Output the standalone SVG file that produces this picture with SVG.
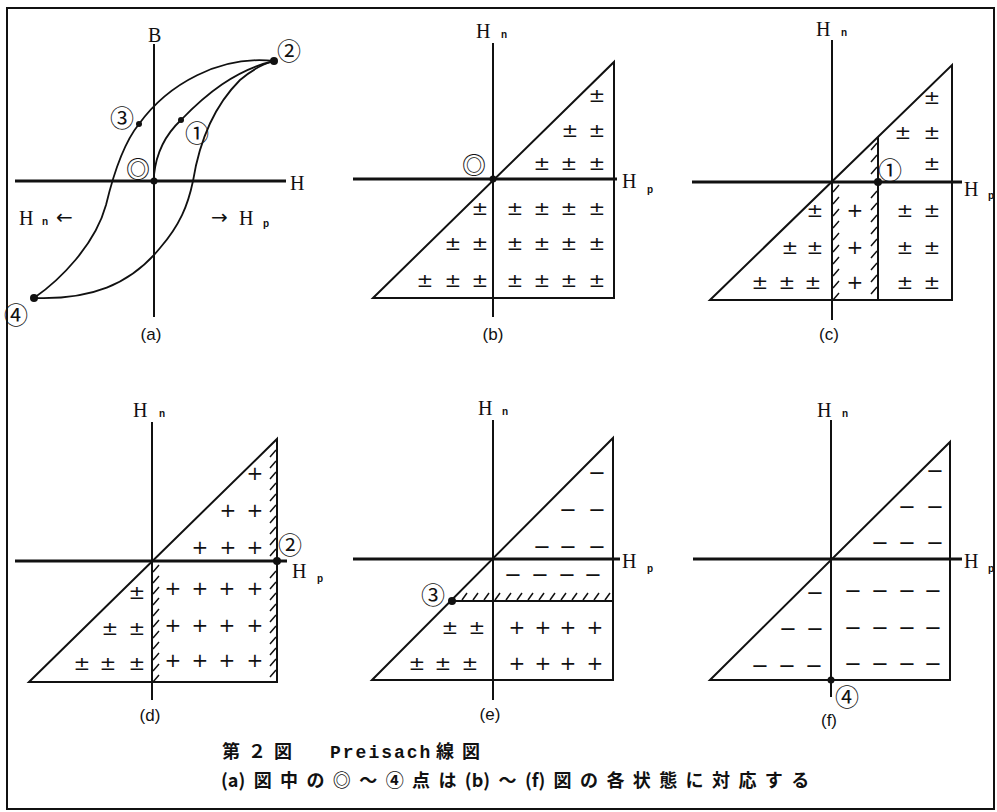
<svg xmlns="http://www.w3.org/2000/svg" width="997" height="812" viewBox="0 0 997 812">
<style>
.ax{stroke:#111;stroke-width:3;fill:none}
.vx{stroke:#111;stroke-width:2;fill:none}
.tri{stroke:#111;stroke-width:2;fill:none;stroke-linejoin:miter}
.cv{stroke:#111;stroke-width:1.8;fill:none}
.ht{stroke:#111;stroke-width:1.5;fill:none}
.s{font-family:"DejaVu Sans",sans-serif;font-size:20px;fill:#111;text-anchor:middle;dominant-baseline:central}
.m{font-family:"DejaVu Sans",sans-serif;font-size:21px;fill:#111;text-anchor:middle;dominant-baseline:central}
.lb{font-family:"Liberation Serif",serif;font-size:20px;fill:#111}
.ar{font-family:"DejaVu Sans",sans-serif;font-size:20px;fill:#111}
.sub{font-family:"Liberation Sans",sans-serif;font-size:10px;font-weight:bold;fill:#111}
.cn{font-family:"Noto Sans CJK JP",sans-serif;font-size:24px;fill:#111;text-anchor:middle;dominant-baseline:central}
.pl{font-family:"Liberation Sans",sans-serif;font-size:17px;fill:#111;text-anchor:middle}
.cap{font-family:"Noto Sans CJK JP",sans-serif;font-size:18px;font-weight:bold;fill:#111}
.mono{font-family:"Liberation Mono",monospace;font-size:18px;font-weight:bold;fill:#111}
.dot{fill:#111}
</style>
<rect x="7" y="8" width="987" height="801" fill="none" stroke="#111" stroke-width="2"/>

<g id="panel-a">
  <line class="vx" x1="154" y1="44" x2="154" y2="317"/>
  <line class="ax" x1="15" y1="181" x2="286" y2="181"/>
  <path class="cv" d="M34,298 C60,280 95,245 106,205 C112,180 122,145 139,124 C168,84 220,55 274,61"/>
  <path class="cv" d="M34,298 C90,300 130,285 160,248 C180,225 188,205 193,181 C198,150 210,110 240,80 C252,70 262,64 274,61"/>
  <path class="cv" d="M154,181 L154,175 C156,155 165,135 181,120 C205,95 235,70 274,61"/>
  <circle class="dot" cx="154" cy="181" r="3.5"/>
  <circle class="dot" cx="274" cy="61" r="4"/>
  <circle class="dot" cx="34" cy="298" r="4"/>
  <circle class="dot" cx="139" cy="124" r="3"/>
  <circle class="dot" cx="181" cy="120" r="3"/>
  <text class="lb" x="148" y="42">B</text>
  <text class="lb" x="290" y="190">H</text>
  <text class="lb" x="19" y="225">H<tspan class="sub" x="42" y="225">n</tspan></text>
  <text class="ar" x="56" y="224">←</text>
  <text class="ar" x="211" y="224">→</text>
  <text class="lb" x="239" y="225">H<tspan class="sub" x="263" y="227">p</tspan></text>
  <text class="cn" x="289" y="49">②</text>
  <text class="cn" x="122" y="116">③</text>
  <text class="cn" x="197" y="131">①</text>
  <text class="cn" x="138" y="167">◎</text>
  <text class="cn" x="16" y="313">④</text>
  <text class="pl" x="151" y="340">(a)</text>
</g>

<g id="panel-b">
  <line class="vx" x1="493" y1="43" x2="493" y2="317"/>
  <line class="ax" x1="353" y1="179" x2="617" y2="179"/>
  <path class="tri" d="M373,298 L614,62 L614,298 Z"/>
  <circle class="dot" cx="493" cy="179" r="3.5"/>
  <text class="lb" x="476" y="38">H<tspan class="sub" x="501" y="38">n</tspan></text>
  <text class="lb" x="622" y="188">H<tspan class="sub" x="647" y="193">p</tspan></text>
  <text class="cn" x="474" y="163">◎</text>
  <g>
    <text class="s" x="597" y="95">±</text>
    <text class="s" x="570" y="130">±</text><text class="s" x="597" y="130">±</text>
    <text class="s" x="542" y="163">±</text><text class="s" x="569" y="163">±</text><text class="s" x="597" y="163">±</text>
    <text class="s" x="480" y="208">±</text>
    <text class="s" x="453" y="243">±</text><text class="s" x="480" y="243">±</text>
    <text class="s" x="425" y="280">±</text><text class="s" x="453" y="280">±</text><text class="s" x="480" y="280">±</text>
    <text class="s" x="515" y="208">±</text><text class="s" x="542" y="208">±</text><text class="s" x="569" y="208">±</text><text class="s" x="597" y="208">±</text>
    <text class="s" x="515" y="243">±</text><text class="s" x="542" y="243">±</text><text class="s" x="569" y="243">±</text><text class="s" x="597" y="243">±</text>
    <text class="s" x="515" y="280">±</text><text class="s" x="542" y="280">±</text><text class="s" x="569" y="280">±</text><text class="s" x="597" y="280">±</text>
  </g>
  <text class="pl" x="493" y="340">(b)</text>
</g>

<g id="panel-c">
  <line class="vx" x1="832" y1="40" x2="832" y2="320"/>
  <line class="ax" x1="692" y1="182" x2="962" y2="182"/>
  <path class="tri" d="M710,300 L952,65 L952,300 Z"/>
  <line class="vx" x1="878" y1="137" x2="878" y2="300"/>
  <path class="ht" d="M833,192 l6,-7 M833,204 l6,-7 M833,216 l6,-7 M833,228 l6,-7 M833,240 l6,-7 M833,252 l6,-7 M833,264 l6,-7 M833,276 l6,-7 M833,288 l6,-7 M833,300 l6,-7"/>
  <path class="ht" d="M871,150 l6,-7 M871,162 l6,-7 M871,174 l6,-7 M871,198 l6,-7 M871,210 l6,-7 M871,222 l6,-7 M871,234 l6,-7 M871,246 l6,-7 M871,258 l6,-7 M871,270 l6,-7 M871,282 l6,-7 M871,294 l6,-7"/>
  <circle class="dot" cx="878" cy="182" r="4"/>
  <text class="lb" x="816" y="36">H<tspan class="sub" x="841" y="36">n</tspan></text>
  <text class="lb" x="964" y="196">H<tspan class="sub" x="988" y="199">p</tspan></text>
  <text class="cn" x="890" y="168">①</text>
  <g>
    <text class="s" x="932" y="97">±</text>
    <text class="s" x="903" y="132">±</text><text class="s" x="932" y="132">±</text>
    <text class="s" x="932" y="163">±</text>
    <text class="s" x="815" y="210">±</text>
    <text class="s" x="790" y="247">±</text><text class="s" x="815" y="247">±</text>
    <text class="s" x="760" y="282">±</text><text class="s" x="787" y="282">±</text><text class="s" x="813" y="282">±</text>
    <text class="s" x="855" y="210">+</text><text class="s" x="855" y="247">+</text><text class="s" x="855" y="282">+</text>
    <text class="s" x="905" y="210">±</text><text class="s" x="932" y="210">±</text>
    <text class="s" x="905" y="247">±</text><text class="s" x="932" y="247">±</text>
    <text class="s" x="905" y="282">±</text><text class="s" x="932" y="282">±</text>
  </g>
  <text class="pl" x="829" y="340">(c)</text>
</g>

<g id="panel-d">
  <line class="vx" x1="152" y1="422" x2="152" y2="700"/>
  <line class="ax" x1="15" y1="561" x2="287" y2="561"/>
  <path class="tri" d="M29,682 L277,439 L277,682 Z"/>
  <path class="ht" d="M153,572 l6,-7 M153,583 l6,-7 M153,594 l6,-7 M153,605 l6,-7 M153,616 l6,-7 M153,627 l6,-7 M153,638 l6,-7 M153,649 l6,-7 M153,660 l6,-7 M153,671 l6,-7 M153,682 l6,-7"/>
  <path class="ht" d="M270,457 l6,-7 M270,468 l6,-7 M270,479 l6,-7 M270,490 l6,-7 M270,501 l6,-7 M270,512 l6,-7 M270,523 l6,-7 M270,534 l6,-7 M270,545 l6,-7 M270,556 l6,-7 M270,578 l6,-7 M270,589 l6,-7 M270,600 l6,-7 M270,611 l6,-7 M270,622 l6,-7 M270,633 l6,-7 M270,644 l6,-7 M270,655 l6,-7 M270,666 l6,-7 M270,677 l6,-7"/>
  <circle class="dot" cx="277" cy="561" r="4"/>
  <text class="lb" x="133" y="417">H<tspan class="sub" x="159" y="417">n</tspan></text>
  <text class="lb" x="292" y="578">H<tspan class="sub" x="317" y="582">p</tspan></text>
  <text class="cn" x="290" y="543">②</text>
  <g>
    <text class="s" x="255" y="473">+</text>
    <text class="s" x="228" y="510">+</text><text class="s" x="255" y="510">+</text>
    <text class="s" x="200" y="547">+</text><text class="s" x="228" y="547">+</text><text class="s" x="255" y="547">+</text>
    <text class="s" x="137" y="592">±</text>
    <text class="s" x="110" y="628">±</text><text class="s" x="137" y="628">±</text>
    <text class="s" x="82" y="663">±</text><text class="s" x="108" y="663">±</text><text class="s" x="137" y="663">±</text>
    <text class="s" x="173" y="588">+</text><text class="s" x="200" y="588">+</text><text class="s" x="227" y="588">+</text><text class="s" x="255" y="588">+</text>
    <text class="s" x="173" y="625">+</text><text class="s" x="200" y="625">+</text><text class="s" x="227" y="625">+</text><text class="s" x="255" y="625">+</text>
    <text class="s" x="173" y="660">+</text><text class="s" x="200" y="660">+</text><text class="s" x="227" y="660">+</text><text class="s" x="255" y="660">+</text>
  </g>
  <text class="pl" x="150" y="721">(d)</text>
</g>

<g id="panel-e">
  <line class="vx" x1="493" y1="420" x2="493" y2="700"/>
  <line class="ax" x1="353" y1="559" x2="620" y2="559"/>
  <path class="tri" d="M372,680 L613,438 L613,680 Z"/>
  <line class="vx" x1="451" y1="601" x2="613" y2="601"/>
  <path class="ht" d="M462,600 l5,-7 M473,600 l5,-7 M484,600 l5,-7 M495,600 l5,-7 M506,600 l5,-7 M517,600 l5,-7 M528,600 l5,-7 M539,600 l5,-7 M550,600 l5,-7 M561,600 l5,-7 M572,600 l5,-7 M583,600 l5,-7 M594,600 l5,-7 M605,600 l5,-7"/>
  <circle class="dot" cx="452" cy="601" r="4"/>
  <text class="lb" x="478" y="415">H<tspan class="sub" x="502" y="415">n</tspan></text>
  <text class="lb" x="622" y="568">H<tspan class="sub" x="647" y="572">p</tspan></text>
  <text class="cn" x="433" y="593">③</text>
  <g>
    <text class="m" x="597" y="473">−</text>
    <text class="m" x="568" y="510">−</text><text class="m" x="597" y="510">−</text>
    <text class="m" x="542" y="547">−</text><text class="m" x="568" y="547">−</text><text class="m" x="597" y="547">−</text>
    <text class="m" x="513" y="575">−</text><text class="m" x="540" y="575">−</text><text class="m" x="567" y="575">−</text><text class="m" x="593" y="575">−</text>
    <text class="s" x="450" y="627">±</text><text class="s" x="477" y="627">±</text>
    <text class="s" x="417" y="663">±</text><text class="s" x="443" y="663">±</text><text class="s" x="470" y="663">±</text>
    <text class="s" x="517" y="627">+</text><text class="s" x="543" y="627">+</text><text class="s" x="568" y="627">+</text><text class="s" x="595" y="627">+</text>
    <text class="s" x="517" y="663">+</text><text class="s" x="543" y="663">+</text><text class="s" x="568" y="663">+</text><text class="s" x="595" y="663">+</text>
  </g>
  <text class="pl" x="490" y="720">(e)</text>
</g>

<g id="panel-f">
  <line class="vx" x1="831" y1="420" x2="831" y2="697"/>
  <line class="ax" x1="693" y1="559" x2="962" y2="559"/>
  <path class="tri" d="M710,680 L950,442 L950,680 Z"/>
  <circle class="dot" cx="831" cy="680" r="3.5"/>
  <text class="lb" x="817" y="417">H<tspan class="sub" x="842" y="417">n</tspan></text>
  <text class="lb" x="964" y="568">H<tspan class="sub" x="988" y="572">p</tspan></text>
  <text class="cn" x="847" y="695">④</text>
  <g>
    <text class="m" x="935" y="471">−</text>
    <text class="m" x="907" y="507">−</text><text class="m" x="935" y="507">−</text>
    <text class="m" x="880" y="543">−</text><text class="m" x="907" y="543">−</text><text class="m" x="935" y="543">−</text>
    <text class="m" x="815" y="593">−</text>
    <text class="m" x="788" y="629">−</text><text class="m" x="815" y="629">−</text>
    <text class="m" x="760" y="666">−</text><text class="m" x="787" y="666">−</text><text class="m" x="814" y="666">−</text>
    <text class="m" x="853" y="591">−</text><text class="m" x="880" y="591">−</text><text class="m" x="907" y="591">−</text><text class="m" x="933" y="591">−</text>
    <text class="m" x="853" y="628">−</text><text class="m" x="880" y="628">−</text><text class="m" x="907" y="628">−</text><text class="m" x="933" y="628">−</text>
    <text class="m" x="853" y="664">−</text><text class="m" x="880" y="664">−</text><text class="m" x="907" y="664">−</text><text class="m" x="933" y="664">−</text>
  </g>
  <text class="pl" x="829" y="726">(f)</text>
</g>

<g id="caption">
  <text class="cap" y="758"><tspan x="222" letter-spacing="8">第２図</tspan><tspan class="mono" x="330" letter-spacing="2">Preisach</tspan><tspan x="436" letter-spacing="8">線図</tspan></text>
  <text class="cap" x="221" y="787"><tspan letter-spacing="0">(a</tspan><tspan letter-spacing="8.4">)図中の◎～④点は</tspan><tspan letter-spacing="0">(b</tspan><tspan letter-spacing="8.4">)～</tspan><tspan letter-spacing="0">(f</tspan><tspan letter-spacing="8.4">)図の各状態に対応する</tspan></text>
</g>
</svg>
